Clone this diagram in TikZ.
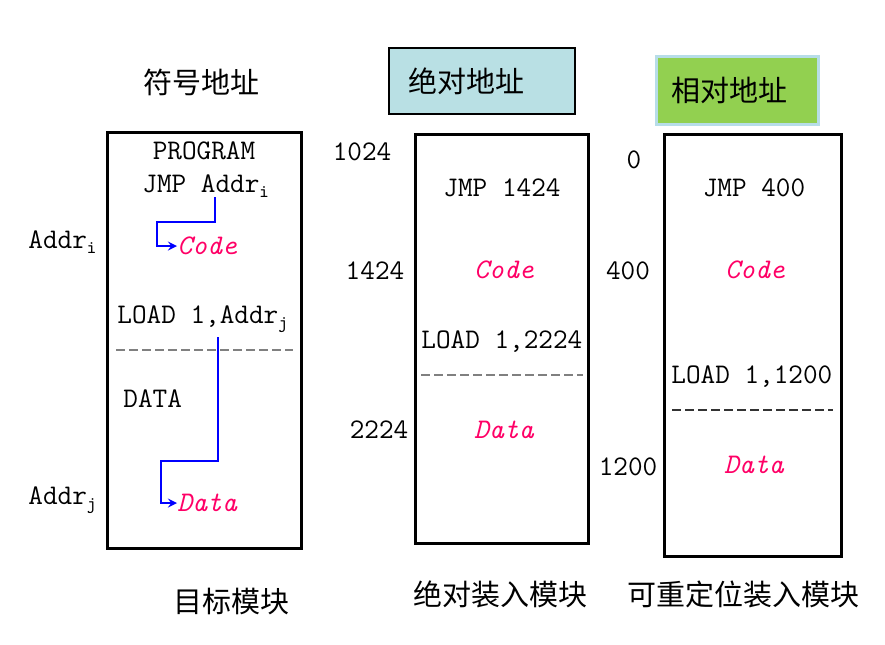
\documentclass[tikz,border=0pt]{standalone}
\usepackage{fontspec}
\newfontfamily\cjk{Noto Sans CJK SC}
\usetikzlibrary{positioning}
\definecolor{codepink}{RGB}{255,0,102}
\definecolor{linkblue}{RGB}{0,0,255}
\definecolor{absfill}{RGB}{185,224,228}
\definecolor{relfill}{RGB}{146,208,80}
\definecolor{relline}{RGB}{183,221,232}
\newcommand{\lowidx}[1]{\raisebox{-0.45ex}{\fontsize{9}{10}\selectfont #1}}
\tikzstyle{arrow}= [line width=1pt, ->, >=stealth, draw=linkblue]
\tikzstyle{memory}= [draw, line width=1.5pt]
\tikzstyle{split}= [line width=0.6pt, dash pattern=on 4.5pt off 2pt]

\begin{document}
\begin{tikzpicture}[
		x=0.5pt, y=-0.5pt,
    mono/.style={
    font=\ttfamily\fontsize{14.2}{16}\selectfont, inner sep=0pt,
    },
    code/.style={
    font=\ttfamily\itshape\fontsize{14.2}{16}\selectfont, inner sep=0pt, text=codepink,
    },
    cn/.style={
    font=\cjk\fontsize{14.5}{17}\selectfont, inner sep=0pt,
    }
	]
  \useasboundingbox (0,0) rectangle (885,644);

  % titles
  \node[cn] (symt) at (201,82) {符号地址};
  \node[cn,draw,line width=0.75pt,fill=absfill,minimum height=33pt,
        text width=74pt,inner xsep=9.5pt,align=left] (abst) at (482,81) {绝对地址};
  \node[cn,draw=relline,line width=1.5pt,fill=relfill,minimum height=34pt,
        text width=66pt,inner xsep=7.5pt,align=left] (relt) at (737.5,90) {相对地址};

  % memory blocks
  \draw[memory] (107,132) rectangle (301,548);
  \draw[memory] (415,134) rectangle (588,543);
  \draw[memory] (664,134) rectangle (841,556);

  % object module
  \node[mono] (prog) at (204,151) {PROGRAM};
  \node[mono,anchor=west] (jmp1) at (142,186) {JMP Addr\lowidx{i}};
  \node[code,anchor=west] (code1) at (177,246) {Code};
  \node[mono,anchor=west] (load1) at (117,319) {LOAD 1,Addr\lowidx{j}};
  \node[mono,anchor=west] (data1) at (123,399) {DATA};
  \node[code,anchor=west] (dat1) at (177,503) {Data};
  \draw[split,draw=gray] (116,350) -- (293,350);
  \node[mono,anchor=west] (addri) at (28,242) {Addr\lowidx{i}};
  \node[mono,anchor=west] (addrj) at (28,500) {Addr\lowidx{j}};
  \coordinate (fromi) at (215,197);
  \coordinate (fromj) at (218,337);
  \draw[arrow] (fromi) -- (215,222) -- (157,222) |- (code1.west);
  \draw[arrow] (fromj) -- (218,461) -- (161,461) |- (dat1.west);

  % absolute load module
  \node[mono] (a1024) at (362,152) {1024};
  \node[mono] (a1424) at (375,271) {1424};
  \node[mono] (a2224) at (379,430) {2224};
  \node[mono] (jmp2) at (502,188) {JMP 1424};
  \node[code] (code2) at (504,270) {Code};
  \node[mono,anchor=west] (load2) at (421,342) {LOAD 1,2224};
  \draw[split,draw=gray] (421,375) -- (583,375);
  \node[code] (dat2) at (504,430) {Data};

  % relocatable load module
  \node[mono] (r0) at (634,160) {0};
  \node[mono] (r400) at (628,271) {400};
  \node[mono] (r1200) at (628,467) {1200};
  \node[mono] (jmp3) at (754,188) {JMP 400};
  \node[code] (code3) at (755,270) {Code};
  \node[mono,anchor=west] (load3) at (671,377) {LOAD 1,1200};
  \draw[split,draw=black!80] (672,410) -- (833,410);
  \node[code] (dat3) at (754,465) {Data};

  % captions
  \node[cn] (objc) at (231,601) {目标模块};
  \node[cn] (absc) at (500,594) {绝对装入模块};
  \node[cn] (relc) at (743,594) {可重定位装入模块};
\end{tikzpicture}
\end{document}
